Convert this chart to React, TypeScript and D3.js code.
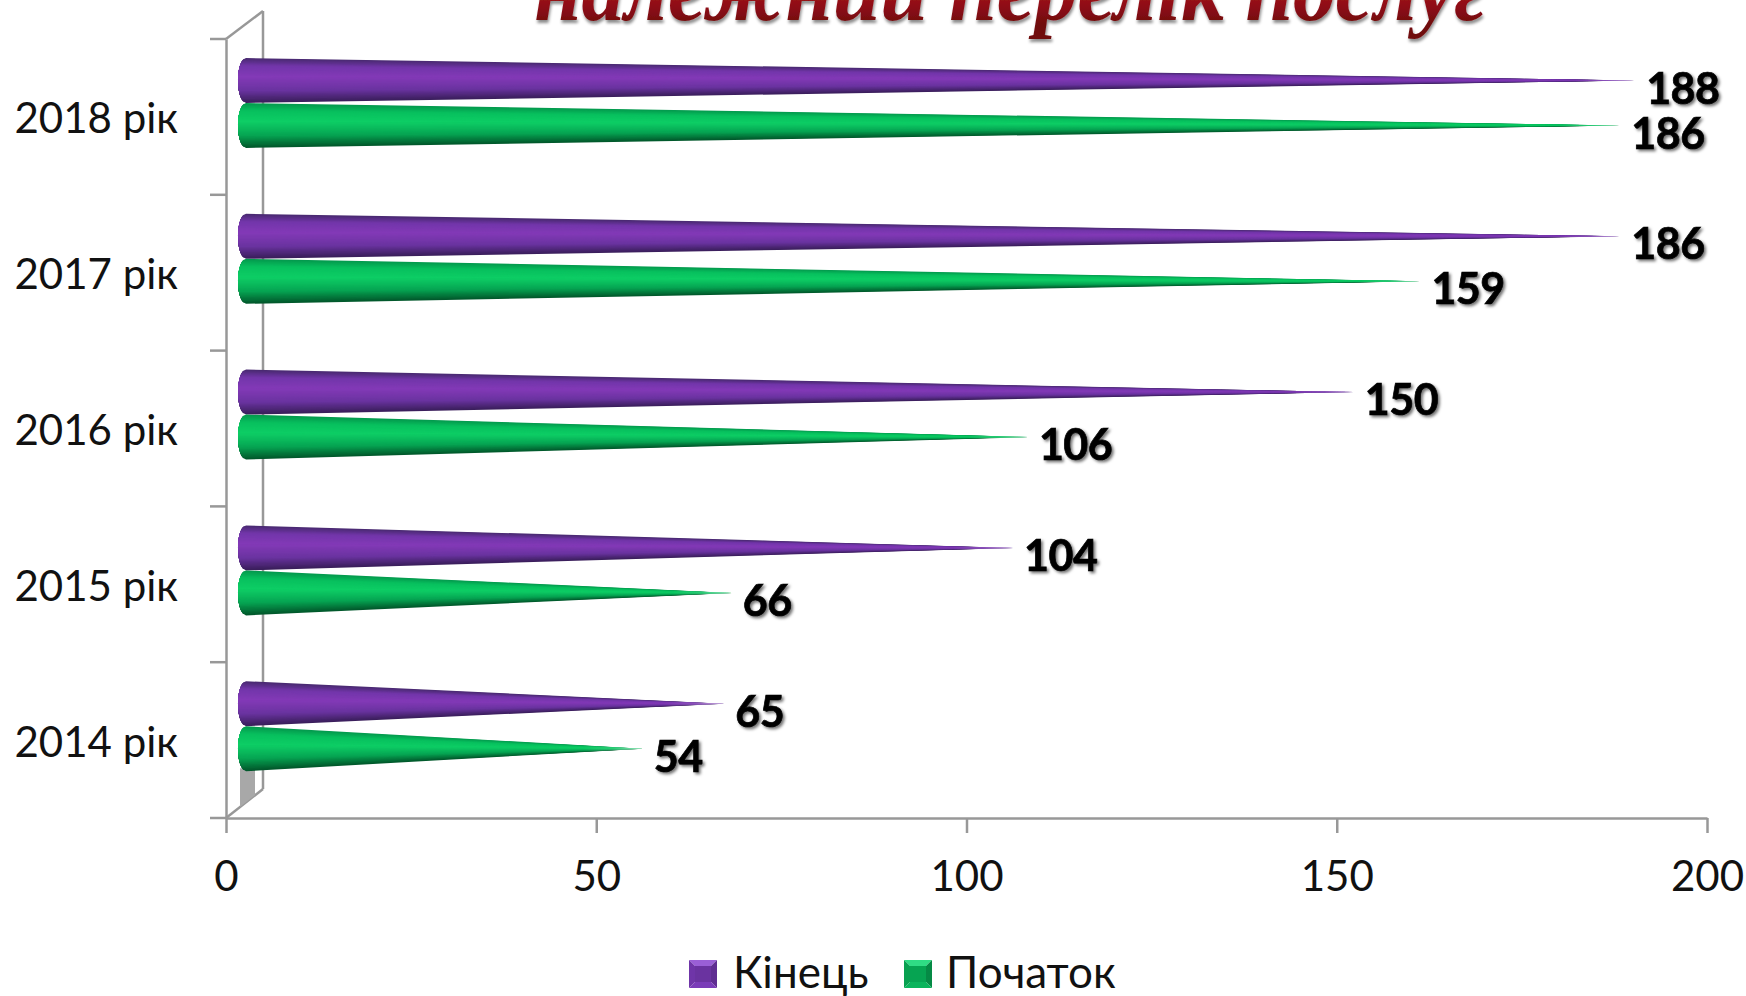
import React, { useEffect, useRef } from "react";
import { select, scaleLinear, scaleBand, axisBottom, axisLeft, range as d3range, path as d3path } from "d3";

const width = 1746;
const height = 996;

const categories = ["2014 рік", "2015 рік", "2016 рік", "2017 рік", "2018 рік"];
const series = ["Кінець", "Початок"];
const kinets = [65, 104, 150, 186, 188];
const pochatok = [54, 66, 106, 159, 186];
const xTicks = [0, 50, 100, 150, 200];
const titleText = "належний перелік послуг";

const shades = {
  "Кінець": ["#4a2a72", "#7236aa", "#843ab8", "#6a33a0", "#3b1f5c"],
  "Початок": ["#049a4e", "#08c05e", "#0ecf66", "#06a452", "#02592c"],
};
const bevel = {
  "Кінець": { top: "#9a5fd6", left: "#6f35a8", right: "#5f2d92", bottom: "#7a3cb8", centre: "#6a33a0" },
  "Початок": { top: "#2fdc84", left: "#08a050", right: "#058a45", bottom: "#0ab45c", centre: "#06a452" },
};

const plotLeft = 226;
const plotRight = 1707;
const plotTop = 39;
const plotBottom = 818;
const depthX = 37;
const depthY = 29;
const axisColor = "#989898";
const labelFont = "Lato, 'Open Sans', sans-serif";
const highlight = 0.42;

function Chart() {
  const axisRef = useRef<SVGGElement>(null);

  const x = scaleLinear().domain([0, 200]).range([plotLeft, plotRight]);
  const y = scaleBand().domain(categories).range([plotBottom, plotTop]);
  // the bars stand a little inside the 3d box
  const xBar = scaleLinear().domain([0, 200]).range([plotLeft + 17, plotRight + 17]);
  const yBar = scaleBand().domain(categories).range([plotBottom - 14, plotTop - 14]);
  const ySeries = scaleBand().domain(series).range([33, 123]);

  useEffect(() => {
    const g = select(axisRef.current);
    g.select<SVGGElement>(".x-axis")
      .attr("transform", `translate(0,${plotBottom})`)
      .call(axisBottom(x).tickValues(xTicks).tickSize(15).tickPadding(28).tickSizeOuter(0));
    g.select<SVGGElement>(".y-axis")
      .attr("transform", `translate(${plotLeft},3)`)
      .call(axisLeft(y).tickSize(0).tickPadding(48));

    // ticks on the left sit between the categories
    g.select(".y-axis").selectAll(".band-tick").remove();
    g.select(".y-axis")
      .selectAll(".band-tick")
      .data(d3range(0, categories.length + 1))
      .join("line")
      .attr("class", "band-tick")
      .attr("x1", -16)
      .attr("x2", 0)
      .attr("y1", (i) => plotBottom - i * y.bandwidth() - 3)
      .attr("y2", (i) => plotBottom - i * y.bandwidth() - 3)
      .attr("stroke", axisColor)
      .attr("stroke-width", 2.5);

    g.selectAll(".domain").attr("stroke", axisColor).attr("stroke-width", 2.5);
    g.select(".y-axis .domain").attr("transform", "translate(0,-3)");
    g.selectAll(".tick line").attr("stroke", axisColor).attr("stroke-width", 2.5);
    g.selectAll(".tick text")
      .attr("font-family", labelFont)
      .attr("font-size", 42)
      .attr("fill", "#111");
  }, []);

  const bars = categories.flatMap((c, i) => [
    { cat: c, name: series[0], value: kinets[i] },
    { cat: c, name: series[1], value: pochatok[i] },
  ]);

  const cone = (b: (typeof bars)[number], idx: number) => {
    const h = ySeries.bandwidth();
    const top = yBar(b.cat)! + ySeries(b.name)!;
    const mid = top + h / 2;
    const tip = xBar(b.value);
    const base = xBar(0) + 3;
    const rx = 8;
    const steps = 20;
    const shade = scaleLinear<string>()
      .domain([0, 0.16, highlight, 0.74, 1])
      .range(shades[b.name as keyof typeof shades]);
    const edge = (t: number) => base - rx * Math.sqrt(Math.max(0, 1 - (2 * t - 1) ** 2));
    const maskId = `fade-${idx}`;

    // slices are painted from each rim in towards the highlight, each over the
    // previous one, so no seams show and the tip ends in the light colour
    const slice = (from: number) => {
      const p = d3path();
      p.moveTo(edge(from), top + from * h);
      for (let k = 1; k <= 12; k++) {
        const t = from + ((highlight - from) * k) / 12;
        p.lineTo(edge(t), top + t * h);
      }
      p.lineTo(tip, mid);
      p.closePath();
      return p.toString();
    };
    const fromRim = d3range(steps).flatMap((s) => [
      highlight * (s / steps),
      1 - (1 - highlight) * (s / steps),
    ]);

    return (
      <g key={idx} mask={`url(#${maskId})`}>
        <defs>
          <linearGradient id={`${maskId}-g`} gradientUnits="userSpaceOnUse" x1={tip - 60} x2={tip} y1={0} y2={0}>
            <stop offset="0" stopColor="#fff" />
            <stop offset="0.5" stopColor="#ddd" />
            <stop offset="1" stopColor="#666" />
          </linearGradient>
          <mask id={maskId} maskUnits="userSpaceOnUse" x={0} y={0} width={width} height={height}>
            <rect x={0} y={0} width={width} height={height} fill={`url(#${maskId}-g)`} />
          </mask>
        </defs>
        {fromRim.map((from, s) => (
          <path key={s} d={slice(from)} fill={shade(from)} />
        ))}
      </g>
    );
  };

  // little grey shadow on the floor of the box, under the lowest bar
  const shadowTop = yBar(categories[0])! + ySeries(series[1])! + ySeries.bandwidth() - 3;
  const floorY = (px: number) => plotBottom - ((px - plotLeft) * depthY) / depthX;
  const shadowL = xBar(0) - 3;
  const shadowR = xBar(0) + 12;

  const legendItems = [
    { name: series[0], sx: 689, tx: 733 },
    { name: series[1], sx: 904, tx: 946 },
  ];

  return (
    <svg width={width} height={height} style={{ position: "absolute", left: 0, top: 0 }}>
      <defs>
        <filter id="textShadow" x="-20%" y="-20%" width="150%" height="150%">
          <feDropShadow dx="2" dy="2" stdDeviation="1.6" floodColor="#000" floodOpacity="0.55" />
        </filter>
        <filter id="titleShadow" x="-5%" y="-20%" width="110%" height="150%">
          <feDropShadow dx="1" dy="3" stdDeviation="1.5" floodColor="#000" floodOpacity="0.45" />
        </filter>
        <linearGradient id="titleFill" x1="0" x2="0" y1="0.3" y2="0.85">
          <stop offset="0" stopColor="#c0272f" />
          <stop offset="0.7" stopColor="#8c0d14" />
          <stop offset="1" stopColor="#6f0a0f" />
        </linearGradient>
      </defs>

      <rect width={width} height={height} fill="#fff" />

      <text
        x={1010}
        y={20}
        textAnchor="middle"
        fontFamily="'Liberation Serif', serif"
        fontStyle="italic"
        fontWeight="bold"
        fontSize={92}
        textLength={952}
        lengthAdjust="spacingAndGlyphs"
        fill="url(#titleFill)"
        filter="url(#titleShadow)"
      >
        {titleText}
      </text>

      <g fill="none" stroke={axisColor} strokeWidth={2.5}>
        <line x1={plotLeft + depthX} x2={plotLeft + depthX} y1={plotTop - depthY + 1} y2={plotBottom - depthY} />
        <line x1={plotLeft} x2={plotLeft + depthX} y1={plotTop} y2={plotTop - depthY + 1} />
        <line x1={plotLeft} x2={plotLeft + depthX} y1={plotBottom} y2={plotBottom - depthY} />
      </g>

      <polygon
        points={[
          [shadowL, shadowTop],
          [shadowR, shadowTop],
          [shadowR, floorY(shadowR)],
          [shadowL, floorY(shadowL)],
        ].join(" ")}
        fill="#a8a8a8"
      />

      <g ref={axisRef}>
        <g className="x-axis" />
        <g className="y-axis" />
      </g>

      {bars.map(cone)}

      {bars.map((b, i) => (
        <text
          key={i}
          x={xBar(b.value) + 11}
          y={yBar(b.cat)! + ySeries(b.name)! + ySeries.bandwidth() / 2 + 23}
          fontFamily={labelFont}
          fontWeight="bold"
          fontSize={43}
          letterSpacing={-0.5}
          fill="#000"
          stroke="#000"
          strokeWidth={0.7}
          filter="url(#textShadow)"
        >
          {b.value}
        </text>
      ))}

      {legendItems.map((l) => {
        const c = bevel[l.name as keyof typeof bevel];
        const s = 28;
        const yy = 960;
        const inset = 6;
        const pts = (arr: number[][]) => arr.map(([a, b]) => `${l.sx + a},${yy + b}`).join(" ");
        return (
          <g key={l.name}>
            <polygon points={pts([[0, 0], [s, 0], [s - inset, inset], [inset, inset]])} fill={c.top} />
            <polygon points={pts([[0, 0], [inset, inset], [inset, s - inset], [0, s]])} fill={c.left} />
            <polygon points={pts([[s, 0], [s, s], [s - inset, s - inset], [s - inset, inset]])} fill={c.right} />
            <polygon points={pts([[0, s], [inset, s - inset], [s - inset, s - inset], [s, s]])} fill={c.bottom} />
            <rect x={l.sx + inset} y={yy + inset} width={s - 2 * inset} height={s - 2 * inset} fill={c.centre} />
            <text x={l.tx} y={988} fontFamily={labelFont} fontSize={44} fill="#111">
              {l.name}
            </text>
          </g>
        );
      })}
    </svg>
  );
}

export default function App() {
  return <Chart />;
}
